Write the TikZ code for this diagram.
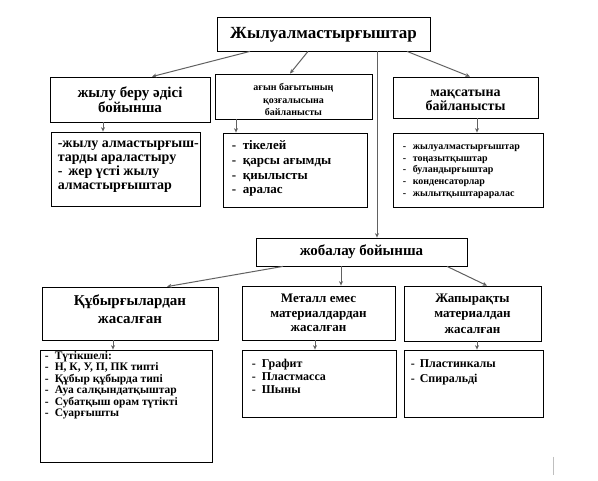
\documentclass[tikz,border=0pt]{standalone}
\usepackage{fontspec}
\setmainfont{Liberation Serif}
\usetikzlibrary{arrows.meta,calc}
\newcommand{\fs}[2]{\fontsize{#1}{#2}\selectfont}
\newcommand{\li}[2][10pt]{\makebox[#1][l]{-}#2}
\tikzset{
  box/.style={draw=black, line width=0.8pt, inner sep=0pt, fill=white},
  conn/.style={draw=black!62, line width=1pt, -{Stealth[length=4.5pt,width=4pt]}},
  lbl/.style={align=center, inner sep=0pt},
  lst/.style={align=left, inner sep=0pt, anchor=north west},
}
\begin{document}
\begin{tikzpicture}[x=1pt,y=-1pt]
\useasboundingbox[fill=white] (0,0) rectangle (598,481);
% boxes
\node[box, minimum width=213pt, minimum height=34pt] (top) at (323.5,34) {};
\node[box, minimum width=160pt, minimum height=45pt] (b1) at (130,99.5) {};
\node[box, minimum width=157pt, minimum height=45pt] (b2) at (293.5,96.5) {};
\node[box, minimum width=145pt, minimum height=41pt] (b3) at (465.5,97.5) {};
\node[box, minimum width=149pt, minimum height=74pt] (s1) at (125.5,169) {};
\node[box, minimum width=144pt, minimum height=74pt] (s2) at (295,170) {};
\node[box, minimum width=150pt, minimum height=74pt] (s3) at (468,170) {};
\node[box, minimum width=211pt, minimum height=28pt] (mid) at (361.5,252) {};
\node[box, minimum width=176pt, minimum height=53pt] (c1) at (130,313.5) {};
\node[box, minimum width=153pt, minimum height=54pt] (c2) at (318.5,313) {};
\node[box, minimum width=137pt, minimum height=55pt] (c3) at (472.5,313.5) {};
\node[box, minimum width=172pt, minimum height=112pt] (d1) at (126,406) {};
\node[box, minimum width=154pt, minimum height=67pt] (d2) at (319,383.5) {};
\node[box, minimum width=139pt, minimum height=67pt] (d3) at (473.5,383.5) {};
% labels
\node[lbl, font=\bfseries\fs{17}{20}] (ttop) at ($(top)+(0,1)$) {Жылуалмастырғыштар};
\node[lbl, font=\bfseries\fs{15}{15.5}] (tb1) at (b1) {жылу беру әдісі\\бойынша};
\node[lbl, font=\bfseries\fs{10}{12.5}] (tb2) at ($(b2)+(0,3)$) {ағын бағытының\\қозғалысына\\байланысты};
\node[lbl, font=\bfseries\fs{14}{13.5}] (tb3) at ($(b3)+(0,3)$) {мақсатына\\байланысты};
\node[lbl, font=\bfseries\fs{15}{16}] (tmid) at (mid) {жобалау бойынша};
\node[lbl, font=\bfseries\fs{15}{18}] (tc1) at ($(c1)+(0,-4)$) {Құбырғылардан\\жасалған};
\node[lbl, font=\bfseries\fs{13}{14.5}] (tc2) at (c2) {Металл емес\\материалдардан\\жасалған};
\node[lbl, font=\bfseries\fs{13}{15.5}] (tc3) at (c3) {Жапырақты\\материалдан\\жасалған};
% lists
\node[lst, font=\bfseries\fs{14}{14}] (ts1) at ($(s1.north west)+(7,9)$) {-жылу алмастырғыш-\\тарды араластыру\\-\hspace{6pt}жер үсті жылу\\алмастырғыштар};
\node[lst, font=\bfseries\fs{13}{14.7}] (ts2) at ($(s2.north west)+(9,8)$) {\li[11pt]{тікелей}\\\li[11pt]{қарсы ағымды}\\\li[11pt]{қиылысты}\\\li[11pt]{аралас}};
\node[lst, font=\bfseries\fs{10}{11.7}] (ts3) at ($(s3.north west)+(10,12)$) {\li[10pt]{жылуалмастырғыштар}\\\li[10pt]{тоңазытқыштар}\\\li[10pt]{буландырғыштар}\\\li[10pt]{конденсаторлар}\\\li[10pt]{жылытқыштараралас}};
\node[lst, font=\bfseries\fs{11.5}{11.5}] (td1) at ($(d1.north west)+(5,1.5)$) {\li[10pt]{Түтікшелі:}\\\li[10pt]{Н, К, У, П, ПК типті}\\\li[10pt]{Құбыр құбырда типі}\\\li[10pt]{Ауа салқындатқыштар}\\\li[10pt]{Субатқыш орам түтікті}\\\li[10pt]{Суарғышты}};
\node[lst, font=\bfseries\fs{12}{13.3}] (td2) at ($(d2.north west)+(10,9)$) {\li[10pt]{Графит}\\\li[10pt]{Пластмасса}\\\li[10pt]{Шыны}};
\node[lst, font=\bfseries\fs{12}{14.5}] (td3) at ($(d3.north west)+(7,10)$) {\li[9pt]{Пластинкалы}\\\li[9pt]{Спиральді}};
% connectors
\draw[conn] (top.south -| 250,0) -- (b1.north -| 152,0);
\draw[conn] (top.south -| 308,0) -- (b2.north -| 290,0);
\draw[conn] (top.south -| 377,0) -- (mid.north -| 377,0);
\draw[conn] (top.south -| 407,0) -- (b3.north -| 470,0);
\draw[conn] (b1.south -| 103,0) -- (s1.north -| 103,0);
\draw[conn] (b2.south -| 236,0) -- (s2.north -| 236,0);
\draw[conn] (b3.south -| 477,0) -- (s3.north -| 477,0);
\draw[conn] (mid.south -| 283,0) -- (c1.north -| 167,0);
\draw[conn] (mid.south -| 341,0) -- (c2.north -| 341,0);
\draw[conn] (mid.south -| 447,0) -- (c3.north -| 487,0);
\draw[conn] (c1.south -| 113,0) -- (d1.north -| 113,0);
\draw[conn] (c2.south -| 315,0) -- (d2.north -| 315,0);
\draw[conn] (c3.south -| 477,0) -- (d3.north -| 477,0);
% stray mark
\draw[black!25, line width=0.8pt] (553,457) -- (553,475);
\end{tikzpicture}
\end{document}
